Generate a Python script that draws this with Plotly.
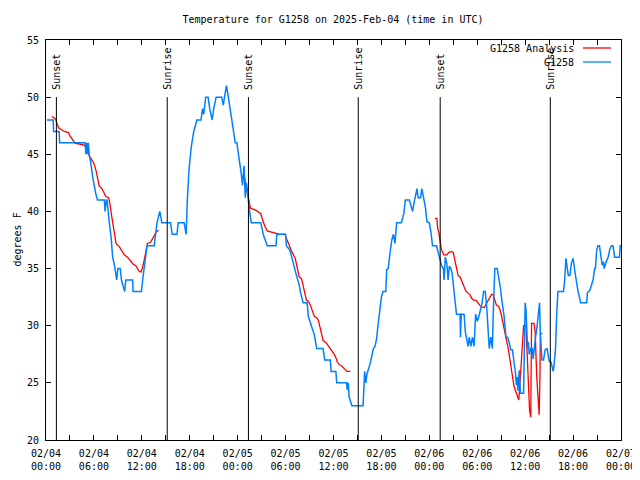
import pandas as pd
import plotly.graph_objects as go

BASE = pd.Timestamp("2025-02-04 00:00")

# Observations (hours since 2025-02-04 00:00 UTC, degrees F)
obs_hours = [0.1, 0.9, 0.95, 1.65, 1.7, 4.9, 5.0, 5.1, 5.2, 5.3, 5.4, 5.6, 5.85, 6.1, 6.25, 6.45, 7.3, 7.4, 7.55, 7.65,
             7.75, 7.93, 8.14, 8.35, 8.6, 8.85, 9.0, 9.3, 9.45, 9.85, 10.0, 10.85, 10.9, 11.95, 12.1, 12.4, 12.65, 13.55, 13.7, 13.9,
             14.25, 14.5, 15.6, 15.8, 16.4, 16.55, 17.3, 17.5, 17.55, 17.7, 17.9, 18.2, 18.5, 18.9, 19.4, 19.6, 19.75, 20.0, 20.3, 20.5,
             20.8, 21.0, 21.3, 22.0, 22.2, 22.35, 22.6, 22.75, 22.9, 23.1, 23.4, 23.7, 23.9, 24.1, 24.3, 24.45, 24.6, 24.8, 24.95, 25.1,
             25.3, 25.5, 25.7, 26.9, 27.2, 27.7, 28.8, 28.9, 30.0, 30.1, 30.55, 30.76, 31.1, 31.4, 31.7, 31.9, 32.2, 32.7, 32.85, 33.2,
             33.6, 33.9, 34.7, 34.9, 35.6, 35.7, 36.3, 36.4, 37.65, 37.7, 37.85, 37.95, 38.3, 39.7, 39.9, 40.05, 40.2, 40.6, 40.8, 41.0,
             41.2, 41.4, 41.6, 41.8, 42.0, 42.2, 42.55, 42.66, 42.85, 43.1, 43.3, 43.5, 43.7, 43.9, 44.5, 44.8, 45.0, 45.5, 45.7, 45.9,
             46.1, 46.3, 46.45, 46.6, 46.9, 47.06, 47.3, 47.5, 47.7, 48.0, 48.2, 48.4, 48.9, 49.1, 49.3, 49.5, 49.75, 49.85, 50.0, 50.2,
             50.35, 50.5, 50.7, 50.85, 51.2, 51.4, 51.85, 51.9, 52.0, 52.35, 52.5, 52.85, 53.0, 53.2, 53.4, 53.6, 53.8, 54.0, 54.2, 54.6,
             54.8, 55.0, 55.2, 55.4, 55.5, 55.7, 55.9, 56.0, 56.2, 56.5, 56.7, 56.9, 57.1, 57.35, 57.6, 57.8, 57.97, 58.2, 58.4, 58.6,
             58.8, 58.9, 59.0, 59.1, 59.25, 59.4, 59.8, 59.9, 60.0, 60.1, 60.2, 60.3, 60.4, 60.5, 60.7, 60.9, 61.0, 61.1, 61.3, 61.5,
             61.7, 61.8, 61.9, 62.1, 62.3, 62.5, 62.75, 62.9, 63.0, 63.25, 63.5, 63.6, 63.8, 63.95, 64.1, 64.8, 64.95, 65.1, 65.2, 65.4,
             65.6, 65.7, 65.8, 66.0, 66.1, 66.3, 66.6, 66.75, 66.95, 67.7, 67.8, 68.1, 68.3, 68.5, 68.7, 68.8, 68.95, 69.1, 69.3, 69.5,
             69.65, 69.8, 69.9, 70.1, 70.4, 70.6, 70.8, 71.0, 71.2, 71.8, 71.9, 72.0]
obs_temps = [48, 48, 47, 47, 46, 46, 45, 46, 45, 46, 45, 44.3, 43, 42, 41.5, 41, 41, 40, 41, 41,
             40, 39, 37.8, 36, 35.2, 34, 35, 35, 34, 33, 34, 34, 33, 33, 34, 35.5, 37, 37, 38, 39,
             40, 39, 39, 38, 38, 39, 39, 38, 38, 41, 43.6, 45.7, 47, 48, 48, 49, 48.5, 50, 50, 49,
             48, 49, 50, 50, 49.3, 50, 51, 50.4, 49.7, 49, 47.7, 46, 46, 44.8, 44, 43.3, 42.3, 44, 41.2, 42.5,
             41, 40, 39, 39, 38, 37, 37, 38, 38, 37, 36.6, 36, 35.2, 34.3, 33.6, 32.8, 32, 32, 30.8, 30,
             29.2, 28, 28, 27, 27, 26, 26, 25, 25, 24.4, 25, 23.8, 23, 23, 26, 25, 25.8, 26.7, 27.3, 28,
             28.2, 28.9, 30.2, 31.4, 32.5, 33, 33, 34.9, 35, 36.5, 37.5, 38, 37.2, 39, 39, 39.8, 41, 41, 40.4, 40,
             40.8, 41.6, 42, 41.2, 41.2, 42, 41, 40.4, 39.1, 39, 38.2, 37, 37, 36.3, 35.9, 35.3, 35, 34, 36, 35.4,
             34, 35.2, 35, 34.6, 32.5, 31, 31, 29, 31, 31, 29.5, 28.2, 29, 28.2, 29, 28.2, 31, 30.4, 30.8, 32,
             33, 33, 31.5, 29, 28, 29, 28, 31, 35, 35, 34.3, 33.3, 32.1, 30.9, 29, 29, 28.6, 27.9, 27.9, 27,
             25.8, 24.8, 25.5, 24.3, 26.1, 24.1, 24.1, 27.9, 32, 31.4, 29, 28, 28.6, 27.5, 28, 28, 27.1, 28, 29, 30,
             31.4, 32, 29.3, 27, 27, 27.9, 28, 27.3, 26.9, 26.8, 26, 26.4, 28, 31, 33, 33, 34, 35.9, 35.2, 34.4,
             34.4, 34.9, 35.5, 35.9, 35.5, 34.4, 33.1, 32.6, 32, 32, 32.9, 33.1, 33.5, 34, 35, 35, 36.6, 37, 37, 35.9,
             35.3, 35.6, 35, 35.5, 36, 36.7, 37, 37, 36, 36, 37, 37]

# Analysis, three separate runs
ana1_hours = [0.75, 1.2, 1.38, 1.6, 2.3, 2.8, 3.0, 3.3, 3.67, 4.2, 4.8, 5.0, 5.2, 5.4, 5.7, 6.0, 6.26, 6.47, 6.68, 7.0,
              7.3, 7.5, 7.85, 8.0, 8.2, 8.35, 8.56, 8.77, 9.2, 9.5, 9.8, 10.2, 10.6, 10.9, 11.3, 11.6, 11.9, 12.1, 12.3, 12.5,
              12.7, 13.1, 13.6, 13.8, 14.1]
ana1_temps = [48.3, 48.1, 47.7, 47.3, 47.0, 46.9, 46.6, 46.3, 45.95, 45.9, 45.8, 45.6, 45.4, 44.9, 44.5, 44.2, 43.6, 43.0, 42.2, 42.0,
              41.6, 41.3, 41.2, 40.7, 39.7, 39.0, 38.1, 37.2, 36.9, 36.5, 36.2, 36.0, 35.6, 35.4, 35.2, 34.8, 34.7, 35.1, 35.75, 36.4,
              37.2, 37.3, 37.9, 38.2, 38.35]
ana2_hours = [24.85, 25.1, 25.35, 25.6, 26.3, 26.9, 27.15, 27.4, 27.7, 28.2, 28.7, 29.25, 29.9, 30.1, 30.4, 30.7, 31.2, 31.4, 31.55, 31.7,
              32.0, 32.2, 32.4, 32.6, 32.9, 33.1, 33.35, 33.6, 33.9, 34.1, 34.3, 34.5, 34.7, 35.1, 35.3, 35.55, 35.85, 36.1, 36.3, 36.5,
              36.7, 37.0, 37.4, 37.7, 38.1]
ana2_temps = [43.0, 42.2, 41.3, 40.3, 40.1, 39.8, 39.2, 38.7, 38.3, 38.2, 38.1, 38.0, 38.0, 37.6, 37.0, 36.6, 35.9, 35.2, 34.85, 34.3,
              34.1, 33.6, 32.9, 32.25, 32.1, 31.8, 31.2, 30.8, 30.7, 30.5, 29.9, 29.2, 28.7, 28.5, 28.3, 28.1, 27.7, 27.5, 27.2, 26.8,
              26.6, 26.5, 26.2, 26.0, 26.0]
ana3_hours = [48.7, 48.95, 49.05, 49.2, 49.35, 49.5, 49.8, 50.2, 50.4, 50.8, 51.0, 51.2, 51.4, 51.6, 51.9, 52.0, 52.35, 52.6, 52.9, 53.1,
              53.3, 53.5, 53.9, 54.1, 54.3, 54.6, 54.9, 55.2, 55.4, 55.6, 55.8, 56.0, 56.2, 56.4, 56.65, 56.85, 57.06, 57.3, 57.5, 57.7,
              57.9, 58.1, 58.3, 58.45, 58.6, 58.85, 59.1, 59.2, 59.3, 59.45, 59.6, 59.8, 60.1, 60.25, 60.4, 60.55, 60.7, 60.8, 61.1, 61.25,
              61.45, 61.6, 61.75, 61.85, 61.9, 62.15]
ana3_temps = [39.4, 39.4, 38.5, 38.1, 37.4, 36.7, 36.2, 36.2, 36.4, 36.5, 36.4, 35.75, 35.0, 34.4, 34.2, 34.0, 33.4, 33.0, 32.8, 32.7,
              32.4, 32.25, 32.2, 31.96, 31.8, 31.6, 31.6, 32.0, 32.25, 32.5, 32.75, 32.7, 32.25, 31.8, 31.7, 31.4, 30.8, 30.0, 29.3, 28.6,
              27.9, 27.0, 26.1, 25.3, 24.7, 24.2, 23.6, 23.5, 24.4, 26.1, 28.5, 30.0, 30.0, 27.9, 25.3, 22.6, 22.0, 30.2, 30.2, 29.5,
              25.5, 23.3, 22.2, 25.5, 29.3, 29.3]

# Sun events
event_hours = [1.30, 15.18, 25.35, 39.10, 49.36, 63.15]
event_names = ["Sunset", "Sunrise", "Sunset", "Sunrise", "Sunset", "Sunrise"]
event_line_top = 50

tick_hours = list(range(0, 73, 3))
label_every = 6
y_ticks = [20, 25, 30, 35, 40, 45, 50, 55]

title_text = "Temperature for G1258 on 2025-Feb-04 (time in UTC)"
y_title = "degrees F"
ana_name = "G1258 Analysis"
obs_name = "G1258"
RED = "#ff0000"
BLUE = "#0080ff"
FONT = "DejaVu Sans Mono"


def to_time(hours):
    return [None if h is None else BASE + pd.Timedelta(hours=h) for h in hours]


ana_hours = ana1_hours + [None] + ana2_hours + [None] + ana3_hours
ana_temps = ana1_temps + [None] + ana2_temps + [None] + ana3_temps

fig = go.Figure()
fig.add_trace(go.Scatter(x=to_time(ana_hours), y=ana_temps, mode="lines", name=ana_name,
                         line=dict(color=RED, width=1.3), connectgaps=False, showlegend=False))
fig.add_trace(go.Scatter(x=to_time(obs_hours), y=obs_temps, mode="lines", name=obs_name,
                         line=dict(color=BLUE, width=1.5), showlegend=False))

for h, name in zip(event_hours, event_names):
    t = BASE + pd.Timedelta(hours=h)
    fig.add_shape(type="line", xref="x", yref="y", x0=t, x1=t, y0=y_ticks[0], y1=event_line_top,
                  line=dict(color="black", width=1))
    fig.add_annotation(x=t, y=event_line_top + 0.5, xref="x", yref="y", text=name, showarrow=False,
                       textangle=-90, xanchor="center", yanchor="bottom",
                       font=dict(family=FONT, size=10, color="black"))

tick_vals = [BASE + pd.Timedelta(hours=h) for h in tick_hours]
tick_text = [(BASE + pd.Timedelta(hours=h)).strftime("%m/%d<br>%H:%M") if h % label_every == 0 else ""
             for h in tick_hours]

# Page has an 8px body margin; the figure is sized to fit the window.
OFF = 8
W, H = 640 - OFF, 480 - OFF
# desired plot box in window pixels: x 46..621, y 40..440
L, R, T, B = 46 - OFF, (640 - OFF) - (621 - OFF), 40 - OFF, (480 - OFF) - (440 - OFF)
pw, ph = 621 - 46, 440 - 40


def px_x(p):
    return (p - 46) / pw


def px_y(p):
    return (440 - p) / ph


for i, (name, col) in enumerate([(ana_name, RED), (obs_name, BLUE)]):
    ypx = 48 + 14 * i
    fig.add_annotation(x=px_x(576), y=px_y(ypx), xref="paper", yref="paper", text=name, showarrow=False,
                       xanchor="right", yanchor="middle", font=dict(family=FONT, size=10, color="black"))
    fig.add_shape(type="line", xref="paper", yref="paper", x0=px_x(583), x1=px_x(611),
                  y0=px_y(ypx), y1=px_y(ypx), line=dict(color=col, width=1.3))

fig.add_annotation(x=px_x(9), y=0.5, xref="paper", yref="paper", text=y_title, showarrow=False,
                   textangle=-90, xanchor="left", yanchor="middle", font=dict(family=FONT, size=10, color="black"))

fig.update_layout(
    width=W, height=H,
    margin=dict(l=L, r=R, t=T, b=B, autoexpand=False),
    paper_bgcolor="white", plot_bgcolor="white",
    title=dict(text=title_text, x=px_x(333), xref="paper", xanchor="center", y=1 - (19 - OFF) / H, yanchor="middle",
               font=dict(family=FONT, size=10, color="black")),
    font=dict(family=FONT, size=10, color="black"),
    showlegend=False,
)
fig.update_xaxes(range=[BASE, BASE + pd.Timedelta(hours=72)], tickmode="array", tickvals=tick_vals, ticktext=tick_text,
                 ticks="inside", ticklen=5, tickcolor="black", showline=True, linecolor="black", linewidth=1,
                 mirror="ticks", showgrid=False, zeroline=False, tickfont=dict(family=FONT, size=10),
                 ticklabelstandoff=4)
fig.update_yaxes(range=[20, 55], tickmode="array", tickvals=y_ticks, ticks="inside", ticklen=5, tickcolor="black",
                 showline=True, linecolor="black", linewidth=1, mirror="ticks", showgrid=False, zeroline=False,
                 tickfont=dict(family=FONT, size=10), ticklabelstandoff=4)

fig.write_html("out.html")
